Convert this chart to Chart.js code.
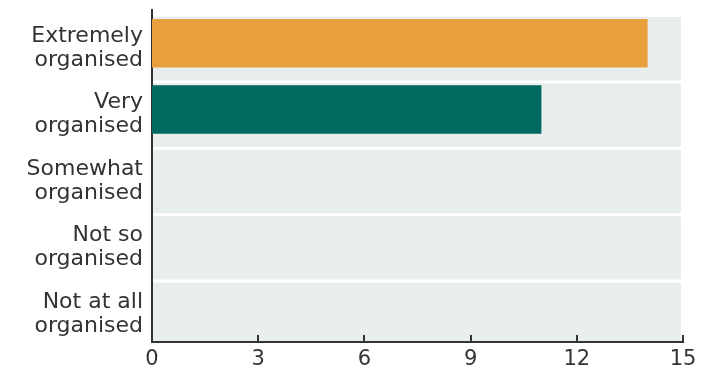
<!DOCTYPE html>
<html>
<head>
<meta charset="utf-8">
<style>
  html, body { margin: 0; padding: 0; background: #ffffff; }
  #wrap { width: 710px; height: 372px; }
</style>
<script src="https://cdn.jsdelivr.net/npm/chart.js@4/dist/chart.umd.min.js"></script>
</head>
<body>
<div id="wrap"><canvas id="c" width="710" height="372"></canvas></div>
<script>
// Survey answers: how organised respondents feel
const categories = [
  ["Extremely", "organised"],
  ["Very", "organised"],
  ["Somewhat", "organised"],
  ["Not so", "organised"],
  ["Not at all", "organised"]
];
const counts = [14, 11, 0, 0, 0];
const barColors = ["#E8A03C", "#006A60", "#E8A03C", "#E8A03C", "#E8A03C"];
const xTicks = [0, 3, 6, 9, 12, 15];

const FONT = "'DejaVu Sans', sans-serif";
const INK = "#333333";
const BAND = "#E8EEEB";
const LABEL_SHIFT = 5;

// Shaded row bands behind each category, drawn before the axes
const rowBands = {
  id: "rowBands",
  beforeDraw(chart) {
    const { ctx, chartArea } = chart;
    const y = chart.scales.y;
    const pitch = (chartArea.bottom - chartArea.top) / categories.length;
    ctx.save();
    ctx.beginPath();
    ctx.rect(chartArea.left, chartArea.top, chartArea.right - chartArea.left, chartArea.bottom - chartArea.top);
    ctx.clip();
    ctx.fillStyle = BAND;
    categories.forEach((_, i) => {
      const c = y.getPixelForValue(i) + LABEL_SHIFT + 0.5;
      const h = pitch - 3;
      ctx.fillRect(chartArea.left, c - h / 2, chartArea.right - chartArea.left - 2, h);
    });
    ctx.restore();
  }
};

// Short tick marks pointing up into the plot from the x axis
const innerTicks = {
  id: "innerTicks",
  afterDraw(chart) {
    const { ctx, chartArea } = chart;
    const x = chart.scales.x;
    ctx.save();
    ctx.strokeStyle = INK;
    ctx.lineWidth = 2;
    xTicks.forEach(v => {
      const px = Math.round(x.getPixelForValue(v));
      ctx.beginPath();
      ctx.moveTo(px, chartArea.bottom);
      ctx.lineTo(px, chartArea.bottom - 7);
      ctx.stroke();
    });
    ctx.restore();
  }
};

new Chart(document.getElementById("c"), {
  type: "bar",
  data: {
    labels: categories,
    datasets: [{
      data: counts,
      backgroundColor: barColors,
      borderWidth: 0,
      barPercentage: 0.73,
      categoryPercentage: 1.0
    }]
  },
  options: {
    indexAxis: "y",
    responsive: false,
    animation: false,
    layout: { padding: { top: 10, right: 27, left: 0, bottom: 0 } },
    plugins: { legend: { display: false }, tooltip: { enabled: false } },
    scales: {
      x: {
        min: 0,
        max: 15,
        afterBuildTicks(scale) { scale.ticks = xTicks.map(v => ({ value: v })); },
        afterFit(scale) { scale.height = 30; scale.paddingLeft = 0; scale.paddingRight = 0; },
        grid: { display: false, drawTicks: false },
        border: { display: true, color: INK, width: 2 },
        ticks: { color: INK, font: { family: FONT, size: 21 }, padding: 5, maxRotation: 0 }
      },
      y: {
        afterFit(scale) { scale.width = 152; scale.paddingTop = 0; scale.paddingBottom = 0; },
        grid: { display: false, drawTicks: false },
        border: { display: true, color: INK, width: 2 },
        ticks: {
          color: INK,
          font: { family: FONT, size: 22, lineHeight: 1.09 },
          padding: 9,
          labelOffset: LABEL_SHIFT
        }
      }
    }
  },
  plugins: [rowBands, innerTicks]
});
</script>
</body>
</html>
